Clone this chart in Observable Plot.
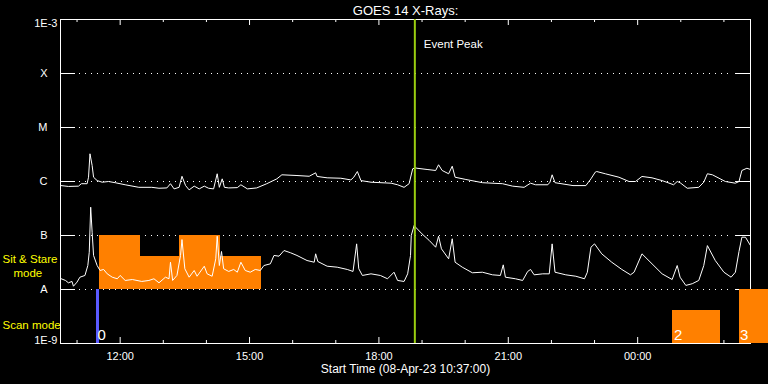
<!DOCTYPE html>
<html><head><meta charset="utf-8">
<script src="https://cdn.jsdelivr.net/npm/d3@7"></script>
<script src="https://cdn.jsdelivr.net/npm/@observablehq/plot@0.6"></script>
<style>
html,body{margin:0;padding:0;background:#000;}
#chart{width:768px;height:384px;overflow:hidden;}
</style></head><body><div id="chart"></div>
<script>
// ---- data ----
const startTime = "10:37";
const endTime = "02:37";
const eventPeakTime = "18:50";

// GOES long channel (upper curve)
const longTimes = ["10:38","10:48","11:02","11:06","11:14","11:16","11:18","11:21","11:23","11:28","11:35","11:44","11:53","12:07","12:26","12:44","12:54","13:05","13:10","13:15","13:22","13:26","13:31","13:36","13:43","13:50","13:57","14:03","14:10","14:15","14:18","14:22","14:25","14:31","14:43","14:48","14:57","15:10","15:24","15:38","15:45","16:06","16:23","16:32","16:34","16:48","17:07","17:21","17:25","17:30","17:35","17:49","18:17","18:26","18:35","18:42","18:47","18:51","18:53","19:07","19:19","19:23","19:28","19:37","19:42","19:46","20:01","20:24","20:52","21:06","21:22","21:31","21:38","21:55","21:58","22:01","22:05","22:30","22:48","22:55","23:01","23:03","23:15","23:34","23:48","23:57","00:06","00:20","00:34","00:50","00:55","00:59","01:09","01:25","01:32","01:37","01:44","02:02","02:16","02:21","02:25","02:32","02:37"];
const longFlux = [8.4e-7,8.1e-7,8.2e-7,9.1e-7,9.1e-7,1.2e-6,3.26e-6,1.98e-6,1.2e-6,1.04e-6,9.7e-7,1.0e-6,9.5e-7,8.7e-7,7.8e-7,7.8e-7,7.5e-7,7.6e-7,9.1e-7,7.3e-7,7.8e-7,1.25e-6,8.4e-7,7.0e-7,8.2e-7,7.3e-7,8.2e-7,7.5e-7,7.3e-7,1.39e-6,7.8e-7,1.12e-6,7.8e-7,7.6e-7,7.7e-7,8.7e-7,7.3e-7,7.6e-7,9.1e-7,1.12e-6,1.33e-6,1.29e-6,1.25e-6,1.45e-6,1.24e-6,1.17e-6,1.15e-6,1.07e-6,1.2e-6,1.53e-6,1.04e-6,9.7e-7,9.3e-7,8.7e-7,7.8e-7,9.1e-7,1.72e-6,1.79e-6,1.76e-6,1.67e-6,1.6e-6,2.04e-6,1.6e-6,1.39e-6,1.92e-6,1.2e-6,1.09e-6,9.5e-7,9.1e-7,8.2e-7,7.8e-7,9.3e-7,8.7e-7,8.7e-7,9.7e-7,1.33e-6,9.5e-7,8.4e-7,8.4e-7,1.12e-6,1.49e-6,1.53e-6,1.39e-6,1.2e-6,1.0e-6,1.0e-6,1.24e-6,1.17e-6,1.04e-6,8.7e-7,1.0e-6,9.5e-7,7.5e-7,7.8e-7,9.7e-7,1.39e-6,1.33e-6,1.0e-6,9.3e-7,1.0e-6,1.6e-6,1.76e-6,1.67e-6];

// GOES short channel (lower curve)
const shortTimes = ["10:38","10:44","10:48","10:53","10:55","11:00","11:04","11:11","11:15","11:17","11:19","11:21","11:23","11:28","11:32","11:37","11:42","11:49","11:56","12:00","12:07","12:17","12:30","12:40","12:47","12:54","13:03","13:08","13:10","13:13","13:19","13:24","13:26","13:30","13:36","13:43","13:47","13:57","14:01","14:08","14:13","14:15","14:18","14:21","14:24","14:31","14:38","14:43","14:48","14:54","15:01","15:08","15:15","15:20","15:29","15:34","15:41","15:48","15:57","16:06","16:20","16:30","16:32","16:35","16:48","17:02","17:16","17:24","17:29","17:32","17:37","17:49","18:02","18:12","18:21","18:26","18:35","18:40","18:44","18:45","18:49","18:51","19:00","19:10","19:19","19:23","19:27","19:37","19:42","19:46","19:56","20:10","20:24","20:38","20:49","20:53","20:56","21:10","21:20","21:27","21:31","21:36","21:48","21:57","22:01","22:05","22:20","22:34","22:46","22:50","22:55","23:00","23:10","23:24","23:38","23:50","23:55","00:06","00:20","00:34","00:48","00:55","00:59","01:07","01:16","01:25","01:32","01:37","01:48","02:00","02:10","02:16","02:21","02:25","02:30","02:37"];
const shortFlux = [1.58e-8,1.47e-8,1.33e-8,1.41e-8,1.15e-8,1.37e-8,1.69e-8,1.82e-8,2.78e-8,4.9e-8,3.34e-7,1.15e-7,4.27e-8,2.78e-8,2.25e-8,2.35e-8,1.95e-8,1.69e-8,1.58e-8,1.82e-8,1.47e-8,1.53e-8,1.41e-8,1.47e-8,1.58e-8,1.33e-8,1.69e-8,1.58e-8,3.2e-8,1.47e-8,1.82e-8,4.27e-8,8.4e-8,2.42e-8,1.69e-8,2.25e-8,1.76e-8,2.7e-8,1.95e-8,1.76e-8,3.7e-8,9.7e-8,2.78e-8,5.06e-8,2.42e-8,2.16e-8,2.35e-8,2.09e-8,3.2e-8,2.25e-8,2.09e-8,2.35e-8,2.25e-8,2.78e-8,2.99e-8,4.27e-8,4.14e-8,5.27e-8,4.79e-8,4.27e-8,3.44e-8,3.2e-8,4.58e-8,3.3e-8,2.7e-8,2.59e-8,2.35e-8,2.16e-8,7.0e-8,2.42e-8,1.82e-8,1.95e-8,1.82e-8,1.58e-8,2.09e-8,1.47e-8,1.41e-8,1.95e-8,4.27e-8,1.0e-7,1.53e-7,1.43e-7,1.07e-7,8.1e-8,6.07e-8,9.7e-8,5.67e-8,3.7e-8,8.7e-8,3.2e-8,2.59e-8,2.04e-8,2.09e-8,1.87e-8,1.82e-8,2.86e-8,1.69e-8,1.58e-8,1.47e-8,2.16e-8,2.35e-8,1.87e-8,1.95e-8,1.95e-8,7.0e-8,2.09e-8,1.87e-8,1.76e-8,1.58e-8,2.09e-8,6.07e-8,7.0e-8,4.58e-8,3.2e-8,2.35e-8,1.87e-8,2.09e-8,4.58e-8,2.99e-8,1.95e-8,1.53e-8,2.78e-8,1.69e-8,1.19e-8,1.28e-8,1.47e-8,2.78e-8,6.5e-8,3.44e-8,2.09e-8,1.69e-8,2.09e-8,5.06e-8,9.3e-8,9.3e-8,6.5e-8];

// flare class levels and axis edge labels
const levelValues = [1e-8, 1e-7, 1e-6, 1e-5, 1e-4];
const levelLabels = ["A", "B", "C", "M", "X"];
const bottomValue = 1e-9, bottomLabel = "1E-9";
const topValue = 1e-3, topLabel = "1E-3";

// time ticks
const majorTicks = ["12:00", "15:00", "18:00", "21:00", "00:00"];
const minorTicks = ["11:00","13:00","14:00","16:00","17:00","19:00","20:00","22:00","23:00","01:00","02:00"];

// Sit & Stare mode blocks
const sitStart = ["11:31", "12:28", "13:23", "14:19"];
const sitEnd   = ["12:28", "13:23", "14:19", "15:16"];
const sitTop   = [1e-7, 4.1e-8, 1e-7, 4.1e-8];
const sitBase  = 1e-8;

// Scan mode blocks
const scanStart = ["11:27", "00:49", "02:21"];
const scanEnd   = ["11:31", "01:55", "03:03"];
const scanTop   = [1e-8, 4.1e-9, 1e-8];
const scanLabel = ["0", "2", "3"];
const scanBase  = 1e-9;

// ---- helpers ----
function t(s) {
  const [h, m] = s.split(":").map(Number);
  return new Date(Date.UTC(2023, 3, h >= 10 ? 8 : 9, h, m));
}
const longData = longTimes.map((s, i) => ({time: t(s), flux: longFlux[i]}));
const shortData = shortTimes.map((s, i) => ({time: t(s), flux: shortFlux[i]}));
const levels = levelValues.map((v, i) => ({v, label: levelLabels[i]}));
const sit = sitStart.map((s, i) => ({x1: t(s), x2: t(sitEnd[i]), y1: sitBase, y2: sitTop[i]}));
const scan = scanStart.map((s, i) => ({x1: t(s), x2: t(scanEnd[i]), y1: scanBase, y2: scanTop[i], label: scanLabel[i], i}));

const ORANGE = "#ff8000", BLUE = "#5a5aff", GREEN = "#9acd10", YELLOW = "#ffff00";
const font = "Liberation Sans, Arial, sans-serif";
const H = 384 - 19 - 41; // inner height
const W = 768 - 60 - 18; // inner width

const chart = Plot.plot({
  width: 768, height: 384,
  marginLeft: 60, marginRight: 18, marginTop: 19, marginBottom: 41,
  style: {background: "black", color: "white", fontFamily: font},
  x: {type: "utc", domain: [t(startTime), t(endTime)], axis: null},
  y: {type: "log", domain: [bottomValue, topValue], axis: null},
  marks: [
    // dotted class lines
    Plot.ruleY(levels, {y: "v", stroke: "white", strokeDasharray: "1,5", insetLeft: 19, insetRight: 17}),
    // solid class ticks at both sides
    Plot.ruleY(levels, {y: "v", stroke: "white", insetRight: W - 15}),
    Plot.ruleY(levels, {y: "v", stroke: "white", insetLeft: W - 15}),
    // time ticks top and bottom
    Plot.ruleX(majorTicks, {x: t, stroke: "white", insetTop: H - 6}),
    Plot.ruleX(majorTicks, {x: t, stroke: "white", insetBottom: H - 6}),
    Plot.ruleX(minorTicks, {x: t, stroke: "white", insetTop: H - 3}),
    Plot.ruleX(minorTicks, {x: t, stroke: "white", insetBottom: H - 3}),
    Plot.frame({stroke: "white"}),
    // mode blocks
    Plot.rect(sit, {x1: "x1", x2: "x2", y1: "y1", y2: "y2", fill: ORANGE, shapeRendering: "crispEdges"}),
    Plot.rect(scan, {x1: "x1", x2: "x2", y1: "y1", y2: "y2", fill: d => d.i === 0 ? BLUE : ORANGE, shapeRendering: "crispEdges"}),
    // curves
    Plot.line(longData, {x: "time", y: "flux", stroke: "white", strokeWidth: 1}),
    Plot.line(shortData, {x: "time", y: "flux", stroke: "white", strokeWidth: 1}),
    // event peak
    Plot.ruleX([eventPeakTime], {x: t, stroke: GREEN, strokeWidth: 2}),
    Plot.text(["Event Peak"], {x: () => t(eventPeakTime), frameAnchor: "top", dx: 9, dy: 28, textAnchor: "start", lineAnchor: "bottom", fill: "white", fontSize: 11.5}),
    // scan labels
    Plot.text(scan, {x: "x1", y: scanBase, text: "label", textAnchor: "start", lineAnchor: "bottom", dx: 1, dy: -4, fill: "white", fontSize: 15}),
    // y labels
    Plot.text(levels, {y: "v", text: "label", frameAnchor: "left", textAnchor: "end", dx: -13, fill: "white", fontSize: 11}),
    Plot.text([topLabel], {y: () => topValue, frameAnchor: "left", textAnchor: "end", dx: -3, dy: 4, fill: "white", fontSize: 11}),
    Plot.text([bottomLabel], {y: () => bottomValue, frameAnchor: "left", textAnchor: "end", dx: -3, dy: -3, fill: "white", fontSize: 11}),
    // mode labels
    Plot.text(["Sit & Stare"], {frameAnchor: "bottom-left", textAnchor: "start", lineAnchor: "bottom", dx: -58, dy: -81, fill: YELLOW, fontSize: 11.5}),
    Plot.text(["mode"], {frameAnchor: "bottom-left", textAnchor: "start", lineAnchor: "bottom", dx: -47, dy: -67, fill: YELLOW, fontSize: 11.5}),
    Plot.text(["Scan mode"], {frameAnchor: "bottom-left", textAnchor: "start", lineAnchor: "bottom", dx: -58, dy: -15, fill: YELLOW, fontSize: 11.5}),
    // time labels
    Plot.text(majorTicks, {x: t, frameAnchor: "bottom", lineAnchor: "bottom", dy: 16, fill: "white", fontSize: 11}),
    Plot.text(["Start Time (08-Apr-23 10:37:00)"], {frameAnchor: "bottom", lineAnchor: "bottom", dy: 29, fill: "white", fontSize: 12}),
    // title
    Plot.text(["GOES 14 X-Rays:"], {frameAnchor: "top", lineAnchor: "bottom", dy: -5, fill: "white", fontSize: 13})
  ]
});
document.getElementById("chart").append(chart);
</script>
</body></html>
